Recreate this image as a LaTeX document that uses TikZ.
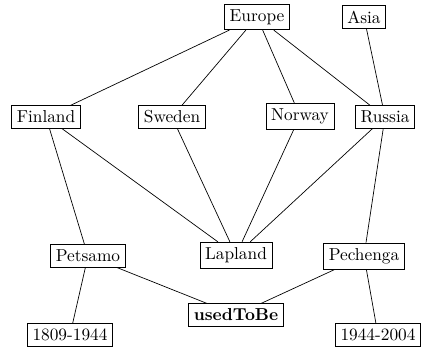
\documentclass[tikz,border=0pt]{standalone}
\usepackage{tikz}

\tikzset{place/.style={draw, rectangle, inner sep=3pt}}

\begin{document}
\begin{tikzpicture}[x=0.578pt,y=0.578pt,yscale=-1,xscale=1]
    %set diagram left start at 0, and has height of 349
    \useasboundingbox (0,0) rectangle (422,349);

    % Text Node
    \node [place] (europe) at (257,17) {Europe};
    % Text Node
    \node [place] (asia) at (364,17) {Asia};
    % Text Node
    \node [place] (finland) at (46,117) {Finland};
    % Text Node
    \node [place] (sweden) at (172,117) {Sweden};
    % Text Node
    \node [place] (norway) at (300,116) {Norway};
    % Text Node
    \node [place] (russia) at (385,117) {Russia};
    % Text Node
    \node [place] (petsamo) at (88,256) {Petsamo};
    % Text Node
    \node [place] (lapland) at (236,255) {Lapland};
    % Text Node
    \node [place] (pechenga) at (364,256) {Pechenga};
    % Text Node
    \node [place] (usedtobe) at (236,315) {\textbf{usedToBe}};
    % Text Node
    \node [place] (early) at (70,335) {1809-1944};
    % Text Node
    \node [place] (late) at (378,335) {1944-2004};

    %Straight Lines
    \draw (europe) -- (finland);
    \draw (europe) -- (sweden);
    \draw (europe) -- (norway);
    \draw (europe) -- (russia);
    \draw (asia) -- (russia);
    %Straight Lines
    \draw (finland) -- (lapland);
    \draw (sweden) -- (lapland);
    \draw (norway) -- (lapland);
    \draw (russia) -- (lapland);
    \draw (finland) -- (petsamo);
    \draw (russia) -- (pechenga);
    %Straight Lines
    \draw (petsamo) -- (usedtobe);
    \draw (pechenga) -- (usedtobe);
    \draw (petsamo) -- (early);
    \draw (pechenga) -- (late);
\end{tikzpicture}
\end{document}
